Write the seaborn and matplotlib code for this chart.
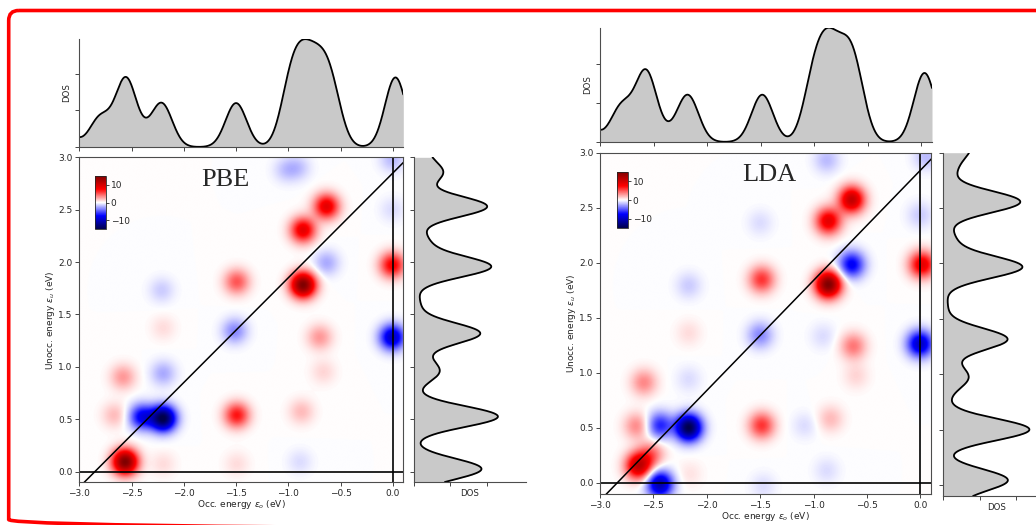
import numpy as np
import matplotlib
matplotlib.use("Agg")
import matplotlib.pyplot as plt
import seaborn as sns
from matplotlib.patches import FancyBboxPatch

# ---------------- data ----------------
panel_names = ["PBE", "LDA"]

# transition contributions (occupied energy, unoccupied energy, weight)
pbe_eo = [-1.02, -0.90, -0.63, -0.855, -0.855, -0.63, -1.49, -2.21, 0.0, 0.0,
          -2.195, -1.51, -0.695, -0.66, -2.58, -2.195, -2.66, -2.195, -2.40, -1.49,
          -0.87, -2.56, -2.195, -1.49, -0.885, 0.0, 0.0]
pbe_eu = [2.88, 2.90, 2.53, 2.305, 1.78, 1.99, 1.81, 1.73, 1.97, 1.28,
          1.37, 1.34, 1.28, 0.95, 0.90, 0.935, 0.536, 0.505, 0.52, 0.536,
          0.57, 0.09, 0.07, 0.07, 0.09, 2.98, 2.50]
pbe_w = [-1.6, -1.6, 9.0, 9.0, 15.0, -2.5, 5.0, -1.5, 8.0, -10.0,
         1.0, -3.5, 3.0, 1.2, 3.0, -2.5, 2.0, -15.0, -8.0, 7.0,
         2.0, 15.0, 1.0, 1.0, -1.0, -2.0, -1.0]

lda_eo = [-0.875, -0.641, -0.86, -1.50, -0.641, -0.86, -1.485, -2.17, 0.02, -2.17,
          -1.50, 0.06, 0.0, -0.626, -0.60, 0.0, -0.91, -2.59, -2.17, -2.656,
          -2.17, -2.44, -1.485, -1.08, -0.84, -2.64, -2.52, -2.44, -0.875, -1.47,
          -2.16]
lda_eu = [2.93, 2.57, 2.375, 2.36, 1.98, 1.80, 1.845, 1.79, 1.98, 1.36,
          1.34, 2.96, 2.43, 1.24, 0.97, 1.26, 1.33, 0.91, 0.94, 0.515,
          0.50, 0.52, 0.52, 0.52, 0.58, 0.153, 0.26, -0.013, 0.11, -0.03,
          0.08]
lda_w = [-2.0, 11.0, 9.0, -1.0, -8.0, 15.0, 6.0, -1.5, 9.0, 1.0,
         -3.5, -2.0, -1.5, 4.0, 1.2, -10.0, -1.0, 3.5, -1.0, 3.5,
         -15.0, -6.5, 6.0, -1.0, 2.0, 11.0, 4.0, -11.0, -1.0, -1.0,
         0.8]

# occupied-state DOS (energy, weight)
pbe_occ_e = [-3.15, -2.80, -2.555, -2.38, -2.21, -1.50, -0.975, -0.845, -0.715, -0.59, 0.025]
pbe_occ_w = [0.5, 0.8, 1.84, 0.15, 1.17, 1.2, 1.6, 1.6, 1.4, 1.45, 1.9]
lda_occ_e = [-3.15, -2.80, -2.57, -2.36, -2.18, -1.485, -1.0, -0.86, -0.72, -0.62, 0.03]
lda_occ_w = [0.6, 0.9, 1.8, 0.1, 1.2, 1.22, 1.55, 1.85, 1.15, 1.5, 1.78]

# unoccupied-state DOS (energy, weight)
pbe_unocc_e = [0.025, 0.525, 0.95, 1.10, 1.32, 1.60, 1.955, 2.20, 2.53, 2.85, 3.05]
pbe_unocc_w = [1.85, 2.3, 0.65, 0.15, 1.8, 0.15, 2.1, 0.35, 2.0, 0.75, 0.3]
lda_unocc_e = [-0.20, 0.045, 0.50, 0.78, 0.97, 1.10, 1.317, 1.62, 1.967, 2.22, 2.556, 2.85, 3.05]
lda_unocc_w = [0.35, 1.75, 2.35, 0.1, 0.65, 0.08, 1.75, 0.12, 2.15, 0.3, 2.1, 0.3, 0.7]

gap = {"PBE": 2.85, "LDA": 2.84}

x_ticks = [-3.0, -2.5, -2.0, -1.5, -1.0, -0.5, 0.0]
y_ticks = [0.0, 0.5, 1.0, 1.5, 2.0, 2.5, 3.0]
cbar_ticks = [-10, 0, 10]

XLIM = (-3.0, 0.1)
YLIM = (-0.1, 3.0)
SIG_MAP = 0.085
SIG_DOS = 0.10

data = {
    "PBE": dict(eo=pbe_eo, eu=pbe_eu, w=pbe_w, occ_e=pbe_occ_e, occ_w=pbe_occ_w,
                un_e=pbe_unocc_e, un_w=pbe_unocc_w),
    "LDA": dict(eo=lda_eo, eu=lda_eu, w=lda_w, occ_e=lda_occ_e, occ_w=lda_occ_w,
                un_e=lda_unocc_e, un_w=lda_unocc_w),
}

# ---------------- layout (pixel boxes: x0, ytop, x1, ybottom) ----------------
W, H = 1036, 525
layout = {
    "PBE": dict(main=(79.3, 157.3, 403.3, 482.0), top=(79.3, 39.0, 403.3, 147.0),
                right=(414.0, 157.3, 526.0, 482.0), cbar=(95.0, 176.0, 105.7, 229.0),
                top_ylim=2.95, right_xlim=3.07, label=(-1.60, 2.78)),
    "LDA": dict(main=(600.0, 152.7, 931.0, 494.0), top=(600.0, 28.0, 932.0, 142.0),
                right=(942.7, 152.7, 1049.6, 496.0), cbar=(616.7, 172.0, 627.7, 228.0),
                top_ylim=2.94, right_xlim=2.90, label=(-1.41, 2.80)),
}


def rect(box):
    x0, yt, x1, yb = box
    return [x0 / W, 1 - yb / H, (x1 - x0) / W, (yb - yt) / H]


def broaden(grid, energies, weights, sigma):
    e = np.asarray(energies)[:, None]
    w = np.asarray(weights)[:, None]
    return (w * np.exp(-(grid[None, :] - e) ** 2 / (2 * sigma ** 2))).sum(axis=0)


sns.set_style("ticks")
plt.rcParams["font.family"] = ["DejaVu Sans"]
plt.rcParams["mathtext.fontset"] = "dejavusans"

fig = plt.figure(figsize=(W / 100, H / 100), dpi=100)

# red rounded frame
bg = fig.add_axes([0, 0, 1, 1])
bg.set_xlim(0, W)
bg.set_ylim(H, 0)
bg.axis("off")
bg.add_patch(FancyBboxPatch((8.7, 10.5), 1100, 519, boxstyle="round,pad=0,rounding_size=10",
                            fill=False, ec="#ff0000", lw=2.6))

spine_c = "0.3"
tick_kw = dict(labelsize=6.5, length=2.8, width=0.6, colors="0.15", pad=2)
fill_c = "#c9c9c9"

for name in panel_names:
    d = data[name]
    L = layout[name]

    # ---- main map ----
    ax = fig.add_axes(rect(L["main"]))
    gx = np.linspace(XLIM[0], XLIM[1], 620)
    gy = np.linspace(YLIM[0], YLIM[1], 620)
    Z = np.zeros((gy.size, gx.size))
    for eo, eu, w in zip(d["eo"], d["eu"], d["w"]):
        Z += w * np.exp(-(gy[:, None] - eu) ** 2 / (2 * SIG_MAP ** 2)) * \
             np.exp(-(gx[None, :] - eo) ** 2 / (2 * SIG_MAP ** 2))
    im = ax.imshow(Z, extent=[XLIM[0], XLIM[1], YLIM[0], YLIM[1]], origin="lower",
                   cmap="seismic", vmin=-15, vmax=15, aspect="auto", interpolation="bilinear")
    diag_x = np.array([XLIM[0] - 0.2, XLIM[1] + 0.2])
    sns.lineplot(x=diag_x, y=diag_x + gap[name], ax=ax, color="black", lw=1.1)
    ax.axhline(0.0, color="black", lw=1.2)
    ax.axvline(0.0, color="black", lw=1.2)
    ax.set_xlim(*XLIM)
    ax.set_ylim(*YLIM)
    ax.set_xticks(x_ticks)
    ax.set_yticks(y_ticks)
    ax.tick_params(**tick_kw)
    for s in ax.spines.values():
        s.set_color(spine_c)
        s.set_linewidth(0.8)
    ax.set_xlabel(r"Occ. energy $\varepsilon_o$ (eV)", fontsize=6.5, labelpad=0.5)
    ax.set_ylabel(r"Unocc. energy $\varepsilon_u$ (eV)", fontsize=6.5, labelpad=1)
    ax.text(L["label"][0], L["label"][1], name, fontsize=19, ha="center", va="center",
            family=["Liberation Serif", "DejaVu Serif"])

    # ---- colorbar inset ----
    cax = fig.add_axes(rect(L["cbar"]))
    cb = fig.colorbar(im, cax=cax, ticks=cbar_ticks)
    cb.outline.set_linewidth(0.6)
    cax.tick_params(labelsize=6.5, length=2.2, width=0.6, pad=1.5)

    # ---- top DOS (occupied) ----
    axt = fig.add_axes(rect(L["top"]))
    ge = np.linspace(XLIM[0], XLIM[1], 700)
    dos_o = broaden(ge, d["occ_e"], d["occ_w"], SIG_DOS)
    axt.fill_between(ge, dos_o, 0, color=fill_c, lw=0)
    sns.lineplot(x=ge, y=dos_o, ax=axt, color="black", lw=1.3)
    axt.set_xlim(*XLIM)
    axt.set_ylim(0, L["top_ylim"])
    axt.set_xticks(x_ticks)
    axt.set_yticks([0, 1, 2])
    axt.tick_params(labelbottom=False, labelleft=False, **tick_kw)
    sns.despine(ax=axt)
    for s in ("left", "bottom"):
        axt.spines[s].set_color(spine_c)
        axt.spines[s].set_linewidth(0.8)
    axt.set_ylabel("DOS", fontsize=6.2, labelpad=3)
    axt.set_xlabel("")

    # ---- right DOS (unoccupied) ----
    axr = fig.add_axes(rect(L["right"]))
    gu = np.linspace(YLIM[0], YLIM[1], 700)
    dos_u = broaden(gu, d["un_e"], d["un_w"], SIG_DOS)
    axr.fill_betweenx(gu, dos_u, 0, color=fill_c, lw=0)
    sns.lineplot(x=dos_u, y=gu, ax=axr, color="black", lw=1.3, orient="y", sort=False,
                 estimator=None)
    axr.set_ylim(*YLIM)
    axr.set_xlim(0, L["right_xlim"])
    axr.set_yticks(y_ticks)
    axr.set_xticks([0, 1, 2])
    axr.tick_params(labelbottom=False, labelleft=False, **tick_kw)
    sns.despine(ax=axr)
    for s in ("left", "bottom"):
        axr.spines[s].set_color(spine_c)
        axr.spines[s].set_linewidth(0.8)
    axr.set_xlabel("DOS", fontsize=6.2, labelpad=2)
    axr.set_ylabel("")

fig.savefig("out.png", dpi=100)
